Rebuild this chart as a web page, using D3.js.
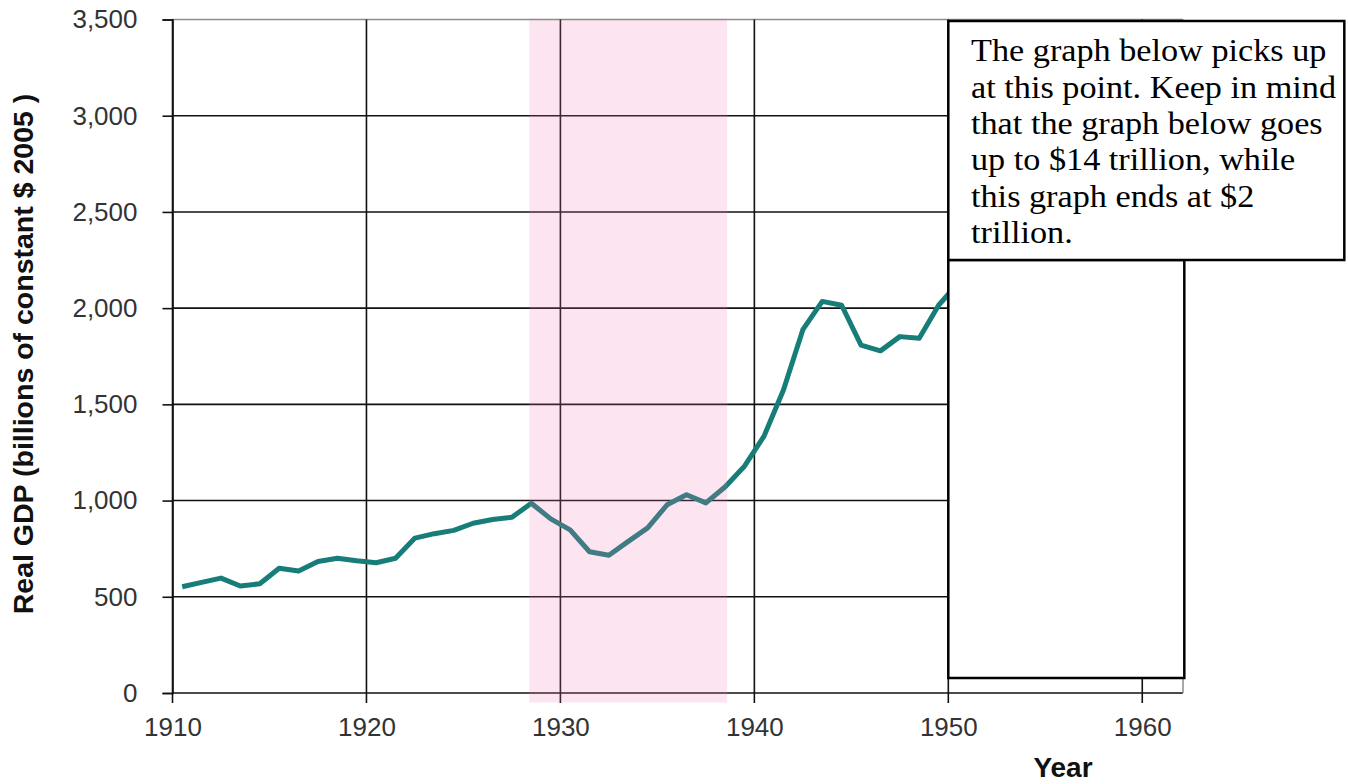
<!DOCTYPE html>
<html>
<head>
<meta charset="utf-8">
<script src="https://d3js.org/d3.v7.min.js"></script>
<style>
  body { margin: 0; background: #fff; }
  svg { display: block; }
</style>
</head>
<body>
<div id="chart"></div>

<script>
    // Real GDP, billions of constant 2005 dollars
    var years = [1911, 1912, 1913, 1914, 1915, 1916, 1917, 1918, 1919, 1920,
                 1921, 1922, 1923, 1924, 1925, 1926, 1927, 1928, 1929, 1930,
                 1931, 1932, 1933, 1934, 1935, 1936, 1937, 1938, 1939, 1940,
                 1941, 1942, 1943, 1944, 1945, 1946, 1947, 1948, 1949, 1950, 1951];
    var gdp = [552, 575, 597, 556, 568, 648, 634, 683, 700, 687,
               677, 700, 805, 828, 845, 882, 902, 913, 986, 905,
               848, 734, 716, 788, 858, 978, 1030, 988, 1072, 1180,
               1335, 1575, 1888, 2035, 2015, 1808, 1778, 1852, 1843, 2015, 2130];

    var xTicks = [1910, 1920, 1930, 1940, 1950, 1960];
    var yTicks = [0, 500, 1000, 1500, 2000, 2500, 3000, 3500];
    var depression = [1928.4, 1938.6]; // shaded band

    var note = ["The graph below picks up",
                "at this point. Keep in mind",
                "that the graph below goes",
                "up to $14 trillion, while",
                "this graph ends at $2",
                "trillion."];

    var data = years.map(function (d, i) { return { year: d, value: gdp[i] }; });

    var W = 1348, H = 784;
    var svg = d3.select("#chart").append("svg")
        .attr("width", W)
        .attr("height", H);

    var x = d3.scaleLinear().domain([1910, 1962.1]).range([172.5, 1183]);
    var y = d3.scaleLinear().domain([0, 3500]).range([693, 19.5]);

    // horizontal grid
    svg.append("g").selectAll("line")
        .data(yTicks)
        .join("line")
        .attr("x1", x(1910)).attr("x2", x(1962.1))
        .attr("y1", function (d) { return y(d); })
        .attr("y2", function (d) { return y(d); })
        .attr("stroke", function (d) { return d === 3500 ? "#8c8c8c" : "#111"; })
        .attr("stroke-width", 1.6);

    // vertical grid (ticks poke below the axis)
    svg.append("g").selectAll("line")
        .data(xTicks)
        .join("line")
        .attr("x1", function (d) { return x(d); })
        .attr("x2", function (d) { return x(d); })
        .attr("y1", y(3500)).attr("y2", y(0) + 10)
        .attr("stroke", "#111")
        .attr("stroke-width", 1.6);

    // right border
    svg.append("line")
        .attr("x1", x(1962.1)).attr("x2", x(1962.1))
        .attr("y1", y(3500)).attr("y2", y(0))
        .attr("stroke", "#8c8c8c").attr("stroke-width", 1.5);

    // the GDP line
    var line = d3.line()
        .x(function (d) { return x(d.year - 0.5); }) // annual values sit mid-interval
        .y(function (d) { return y(d.value); });

    svg.append("path")
        .datum(data)
        .attr("fill", "none")
        .attr("stroke", "#167d78")
        .attr("stroke-width", 5)
        .attr("stroke-linejoin", "round")
        .attr("d", line);

    // depression band, laid over the line and grid
    svg.append("rect")
        .attr("x", x(depression[0]))
        .attr("width", x(depression[1]) - x(depression[0]))
        .attr("y", y(3500) + 0.5)
        .attr("height", y(0) + 9 - y(3500))
        .attr("fill", "rgb(240,120,180)")
        .attr("fill-opacity", 0.2);

    // y axis ticks + labels
    var yAxis = d3.axisLeft(y).tickValues(yTicks).tickSize(10).tickPadding(25)
        .tickFormat(d3.format(","));
    var gy = svg.append("g").attr("transform", "translate(" + x(1910) + ",0)").call(yAxis);
    gy.select(".domain").attr("stroke", "#111").attr("stroke-width", 1.6);
    gy.selectAll(".tick line").attr("stroke", "#111").attr("stroke-width", 1.6);
    gy.selectAll("text")
        .attr("font-family", "Liberation Sans, Arial, sans-serif")
        .attr("font-size", 26)
        .attr("fill", "#333");

    // x axis labels (tick marks come from the grid)
    var xAxis = d3.axisBottom(x).tickValues(xTicks).tickSize(10).tickPadding(15)
        .tickFormat(d3.format("d"));
    var gx = svg.append("g").attr("transform", "translate(0," + y(0) + ")").call(xAxis);
    gx.select(".domain").remove();
    gx.selectAll(".tick line").remove();
    gx.selectAll("text")
        .attr("font-family", "Liberation Sans, Arial, sans-serif")
        .attr("font-size", 26)
        .attr("fill", "#333");

    // axis titles
    svg.append("text")
        .attr("transform", "translate(33,354) rotate(-90)")
        .attr("text-anchor", "middle")
        .attr("font-family", "Liberation Sans, Arial, sans-serif")
        .attr("font-weight", "bold")
        .attr("font-size", 28.5)
        .attr("fill", "#111")
        .text("Real GDP (billions of constant $ 2005 )");

    svg.append("text")
        .attr("x", 1063).attr("y", 777)
        .attr("text-anchor", "middle")
        .attr("font-family", "Liberation Sans, Arial, sans-serif")
        .attr("font-weight", "bold")
        .attr("font-size", 28)
        .attr("fill", "#111")
        .text("Year");

    // annotation boxes that cover the end of the chart
    svg.append("rect")
        .attr("x", x(1950)).attr("y", 260)
        .attr("width", 236).attr("height", 418)
        .attr("fill", "#fff").attr("stroke", "#000").attr("stroke-width", 2.5);

    svg.append("rect")
        .attr("x", x(1950)).attr("y", 21)
        .attr("width", 396).attr("height", 239)
        .attr("fill", "#fff").attr("stroke", "#000").attr("stroke-width", 2.5);

    svg.append("text")
        .attr("transform", "translate(971,0) scale(1.07,1)")
        .attr("font-family", "Liberation Serif, Times New Roman, serif")
        .attr("font-size", 32)
        .attr("fill", "#000")
        .selectAll("tspan")
        .data(note)
        .join("tspan")
        .attr("x", 0)
        .attr("y", function (d, i) { return 61.5 + i * 36.3; })
        .text(function (d) { return d; });
</script>
</body>
</html>
